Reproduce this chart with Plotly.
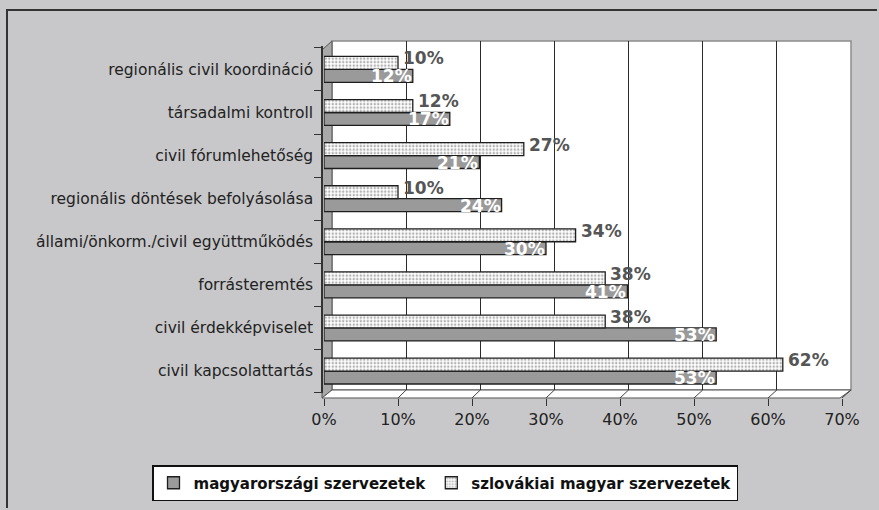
import plotly.graph_objects as go

# Survey results: share of organisations naming each area
categories = [
    "regionális civil koordináció",
    "társadalmi kontroll",
    "civil fórumlehetőség",
    "regionális döntések befolyásolása",
    "állami/önkorm./civil együttműködés",
    "forrásteremtés",
    "civil érdekképviselet",
    "civil kapcsolattartás",
]
magyarorszagi = [12, 17, 21, 24, 30, 41, 53, 53]
szlovakiai = [10, 12, 27, 10, 34, 38, 38, 62]
series_names = ["magyarországi szervezetek", "szlovákiai magyar szervezetek"]
x_ticks = [0, 10, 20, 30, 40, 50, 60, 70]
x_tick_labels = [f"{v}%" for v in x_ticks]

W, H = 879, 510
FONT = "DejaVu Sans"

# pixel geometry of the pseudo-3D frame
FRONT_L, FRONT_R, FRONT_Y = 324, 842, 398   # bar scale / floor front edge
BACK_L, BACK_R, BACK_TOP, BACK_Y = 332, 851, 41, 390  # back wall
CAT_TOP, CAT_BOT = 46.4, 392.6
XMAX = 70


def px(x):
    return x / W


def py(y):
    return 1 - y / H


def path(points, close=True):
    s = "M " + " L ".join(f"{px(x):.5f},{py(y):.5f}" for x, y in points)
    return s + (" Z" if close else "")


fig = go.Figure()

# empty trace that keeps the back-wall subplot (gridlines) alive
fig.add_trace(go.Scatter(x=[None], y=[None], xaxis="x", yaxis="y",
                         showlegend=False, hoverinfo="skip"))

fig.add_trace(go.Bar(
    y=categories, x=magyarorszagi, orientation="h", name=series_names[0],
    xaxis="x2", yaxis="y2",
    marker=dict(color="#9a9a9a", line=dict(color="#1e1e1e", width=1.3)),
    hoverinfo="skip",
))
fig.add_trace(go.Bar(
    y=categories, x=szlovakiai, orientation="h", name=series_names[1],
    xaxis="x2", yaxis="y2",
    marker=dict(color="white", line=dict(color="#1e1e1e", width=1.3),
                pattern=dict(shape=".", fgcolor="#666666", bgcolor="white",
                             size=3.5, solidity=0.4)),
    hoverinfo="skip",
))

# value labels: white inside the end of the dark bars, grey beside the dotted bars
annotations = []
for cat, v in zip(categories, magyarorszagi):
    annotations.append(dict(
        x=v, y=cat, xref="x2", yref="y2", text=f"{v}%", showarrow=False,
        xanchor="right", yanchor="middle", xshift=1, yshift=-7,
        font=dict(family=FONT, size=17, color="white", weight="bold")))
for cat, v in zip(categories, szlovakiai):
    annotations.append(dict(
        x=v, y=cat, xref="x2", yref="y2", text=f"{v}%", showarrow=False,
        xanchor="left", yanchor="middle", xshift=3, yshift=11,
        font=dict(family=FONT, size=17, color="#555555", weight="bold")))

shapes = [
    # back wall
    dict(type="rect", xref="paper", yref="paper", layer="below",
         x0=px(BACK_L), x1=px(BACK_R), y0=py(BACK_Y), y1=py(BACK_TOP),
         fillcolor="white", line=dict(color="#8c8c8c", width=1.5)),
    # left wall
    dict(type="path", xref="paper", yref="paper", layer="below",
         path=path([(322, FRONT_Y), (322, 50), (BACK_L, BACK_TOP), (BACK_L, BACK_Y)]),
         fillcolor="#a9a9a9", line=dict(color="#555555", width=1)),
    # floor
    dict(type="path", xref="paper", yref="paper", layer="below",
         path=path([(322, FRONT_Y), (FRONT_R - 2, FRONT_Y),
                    (BACK_R, BACK_Y), (BACK_L, BACK_Y)]),
         fillcolor="white", line=dict(color="#555555", width=1)),
    # chart frame (top and left edges), kept inside the page
    dict(type="path", xref="paper", yref="paper", layer="above",
         path=path([(7, H - 2), (7, 10), (W - 2, 10)], close=False),
         line=dict(color="#333333", width=2)),
]
# floor lines joining each front tick to its back-wall gridline
for v in x_ticks[1:]:
    xf = FRONT_L + (FRONT_R - FRONT_L) * v / XMAX
    xb = BACK_L + (BACK_R - BACK_L) * v / XMAX
    shapes.append(dict(type="path", xref="paper", yref="paper", layer="below",
                       path=path([(xf, FRONT_Y), (xb, BACK_Y)], close=False),
                       line=dict(color="#444444", width=1)))

fig.update_layout(
    width=W, height=H,
    margin=dict(l=0, r=0, t=0, b=0, autoexpand=False),
    paper_bgcolor="#c8c8ca",
    plot_bgcolor="rgba(0,0,0,0)",
    font=dict(family=FONT, color="#222222"),
    barmode="group", bargap=0.4, bargroupgap=0,
    shapes=shapes,
    annotations=annotations,
    xaxis=dict(domain=[px(BACK_L), px(BACK_R)], range=[0, XMAX], anchor="y",
               showgrid=True, gridcolor="#2a2a2a", gridwidth=1,
               tick0=0, dtick=10, showticklabels=False, ticks="",
               zeroline=False, showline=False, fixedrange=True),
    yaxis=dict(domain=[py(BACK_Y), py(BACK_TOP)], range=[0, 1], anchor="x",
               visible=False, fixedrange=True),
    xaxis2=dict(domain=[px(FRONT_L), px(FRONT_R)], range=[0, XMAX],
                anchor="free", position=py(FRONT_Y),
                tickmode="array", tickvals=x_ticks, ticktext=x_tick_labels,
                ticks="outside", ticklen=7, tickcolor="#333333", tickwidth=1,
                tickfont=dict(size=16, color="#222222"),
                showgrid=False, zeroline=False, showline=False, fixedrange=True),
    yaxis2=dict(domain=[py(CAT_BOT), py(CAT_TOP)], anchor="free", position=px(322),
                type="category", categoryorder="array",
                categoryarray=categories[::-1],
                ticks="outside", tickson="boundaries", ticklen=7,
                tickcolor="#333333", ticklabelstandoff=5,
                tickfont=dict(size=15.5, color="#222222"),
                showline=True, linecolor="#333333", linewidth=1.5,
                showgrid=False, fixedrange=True),
    showlegend=True,
    legend=dict(orientation="h", x=px(445), xanchor="center",
                y=py(483), yanchor="middle",
                bgcolor="white", bordercolor="#111111", borderwidth=1.5,
                font=dict(size=15, color="#111111", weight="bold"),
                itemwidth=30, traceorder="normal"),
)

fig.write_html("out.html", config={"displayModeBar": False})
